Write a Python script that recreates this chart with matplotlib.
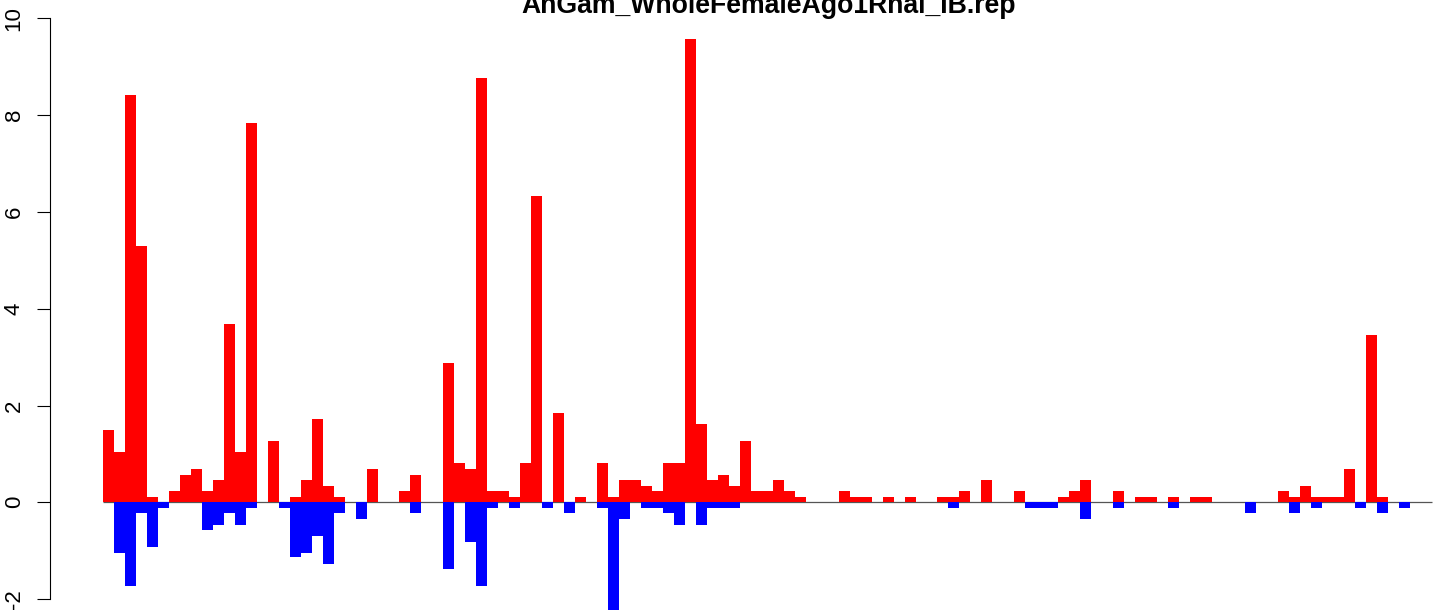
import matplotlib
matplotlib.use("Agg")
import matplotlib.pyplot as plt
import numpy as np

plt.rcParams['font.family'] = ['Liberation Sans', 'DejaVu Sans']
plt.rcParams['axes.unicode_minus'] = False

title = "AnGam_WholeFemaleAgo1Rnai_IB.rep"

# positive (red) values, one per bin
pos_values = [
    1.49, 1.04, 8.41, 5.29, 0.11, 0.00, 0.23, 0.57, 0.69, 0.23,
    0.46, 3.68, 1.04, 7.83, 0.00, 1.27, 0.00, 0.11, 0.46, 1.72,
    0.34, 0.11, 0.00, 0.00, 0.69, 0.00, 0.00, 0.23, 0.57, 0.00,
    0.00, 2.87, 0.81, 0.69, 8.76, 0.23, 0.23, 0.11, 0.81, 6.32,
    0.00, 1.85, 0.00, 0.11, 0.00, 0.81, 0.11, 0.46, 0.46, 0.34,
    0.23, 0.81, 0.81, 9.57, 1.62, 0.46, 0.57, 0.34, 1.27, 0.23,
    0.23, 0.46, 0.23, 0.11, 0.00, 0.00, 0.00, 0.23, 0.11, 0.11,
    0.00, 0.11, 0.00, 0.11, 0.00, 0.00, 0.11, 0.11, 0.23, 0.00,
    0.46, 0.00, 0.00, 0.23, 0.00, 0.00, 0.00, 0.11, 0.23, 0.46,
    0.00, 0.00, 0.23, 0.00, 0.11, 0.11, 0.00, 0.11, 0.00, 0.11,
    0.11, 0.00, 0.00, 0.00, 0.00, 0.00, 0.00, 0.23, 0.11, 0.34,
    0.11, 0.11, 0.11, 0.69, 0.00, 3.45, 0.11, 0.00, 0.00, 0.00,
    0.00,
]

# negative (blue) values, one per bin
neg_values = [
    0.00, -1.04, -1.72, -0.23, -0.92, -0.11, 0.00, 0.00, 0.00, -0.57,
    -0.46, -0.23, -0.46, -0.11, 0.00, 0.00, -0.11, -1.14, -1.04, -0.69,
    -1.27, -0.23, 0.00, -0.34, 0.00, 0.00, 0.00, 0.00, -0.23, 0.00,
    0.00, -1.37, 0.00, -0.81, -1.72, -0.11, 0.00, -0.11, 0.00, 0.00,
    -0.11, 0.00, -0.23, 0.00, 0.00, -0.11, -2.29, -0.34, 0.00, -0.11,
    -0.11, -0.23, -0.46, 0.00, -0.46, -0.11, -0.11, -0.11, 0.00, 0.00,
    0.00, 0.00, 0.00, 0.00, 0.00, 0.00, 0.00, 0.00, 0.00, 0.00,
    0.00, 0.00, 0.00, 0.00, 0.00, 0.00, 0.00, -0.11, 0.00, 0.00,
    0.00, 0.00, 0.00, 0.00, -0.11, -0.11, -0.11, 0.00, 0.00, -0.34,
    0.00, 0.00, -0.11, 0.00, 0.00, 0.00, 0.00, -0.11, 0.00, 0.00,
    0.00, 0.00, 0.00, 0.00, -0.23, 0.00, 0.00, 0.00, -0.23, 0.00,
    -0.11, 0.00, 0.00, 0.00, -0.11, 0.00, -0.23, 0.00, -0.11, 0.00,
    0.00,
]

y_ticks = [-2, 0, 2, 4, 6, 8, 10]

W, H = 1444, 610
fig = plt.figure(figsize=(W / 100, H / 100), dpi=100)

# axes geometry (pixels)
ax_left_px = 50.3
x0_px = 103.0          # left edge of first bin
bin_px = 10.98
zero_px = 502.3
unit_px = 48.4

ax = fig.add_axes([ax_left_px / W, 0, 1 - ax_left_px / W, 1])
ax.set_xlim((ax_left_px - x0_px) / bin_px, (W - x0_px) / bin_px)
ax.set_ylim(-(H - zero_px) / unit_px, zero_px / unit_px)

n = len(pos_values)
x = np.arange(n)
ax.plot([0, n], [0, 0], color='#555555', lw=0.9, zorder=1, solid_capstyle='butt')
ax.bar(x, pos_values, width=1.0, align='edge', color='#ff0000', linewidth=0, zorder=2)
ax.bar(x, neg_values, width=1.0, align='edge', color='#0000ff', linewidth=0, zorder=2)

for s in ['top', 'right', 'bottom']:
    ax.spines[s].set_visible(False)
ax.spines['left'].set_bounds(-2, 10)
ax.spines['left'].set_linewidth(0.8)
ax.set_xticks([])
ax.set_yticks(y_ticks)
ax.set_yticklabels([str(t) for t in y_ticks], rotation=90, va='center')
ax.tick_params(axis='y', direction='out', length=9.4, width=0.8, pad=9, labelsize=16)
ax.patch.set_alpha(0)

fig.text(768.5 / W, 1 - 13 / H, title, ha='center', va='baseline',
         fontsize=19.2, fontweight='bold')

fig.savefig('out.png', dpi=100)
